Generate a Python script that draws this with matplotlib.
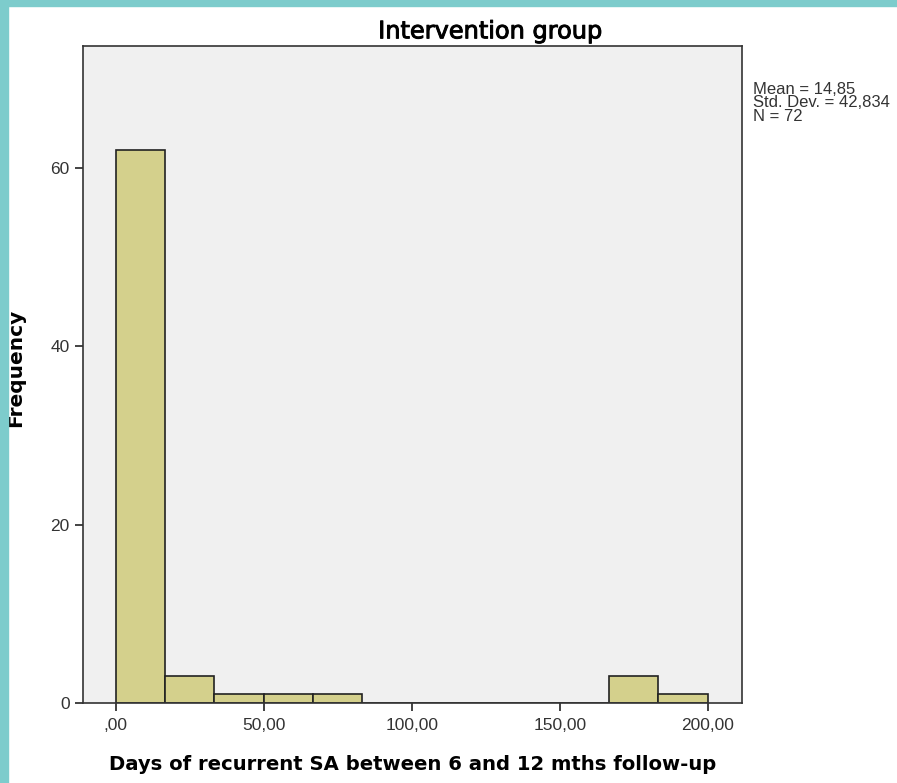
import matplotlib
matplotlib.use("Agg")
import matplotlib.pyplot as plt
import matplotlib.patheffects as pe
from matplotlib.patches import Rectangle

# histogram of days (12 bins of width 200/12)
bin_edges = [0, 16.667, 33.333, 50, 66.667, 83.333, 100, 116.667, 133.333, 150, 166.667, 183.333, 200]
counts = [62, 3, 1, 1, 1, 0, 0, 0, 0, 0, 3, 1]
x_ticks = [0, 50, 100, 150, 200]
x_tick_labels = [',00', '50,00', '100,00', '150,00', '200,00']
y_ticks = [0, 20, 40, 60]
stats_text = 'Mean = 14,85\nStd. Dev. = 42,834\nN = 72'

plt.rcParams['font.family'] = ['Liberation Sans', 'DejaVu Sans']

fig = plt.figure(figsize=(8.97, 7.83), dpi=100)
ax = fig.add_axes([0.0925, 0.1022, 0.7345, 0.8391])
ax.set_facecolor('#f0f0f0')

widths = [bin_edges[i + 1] - bin_edges[i] for i in range(len(counts))]
ax.bar(bin_edges[:-1], counts, width=widths, align='edge',
       color='#d4d08c', edgecolor='#222222', linewidth=1.2)

ax.set_xlim(-11.1, 211.5)
ax.set_ylim(0, 73.7)
ax.set_xticks(x_ticks)
ax.set_xticklabels(x_tick_labels)
ax.set_yticks(y_ticks)
ax.tick_params(axis='both', direction='out', length=6, width=1.2,
               labelsize=12.5, colors='#222222', labelcolor='#333333')
ax.tick_params(axis='x', pad=5)
for side in ax.spines.values():
    side.set_color('#333333')
    side.set_linewidth(1.2)

title = ax.text(0.618, 1.004, 'Intervention group', transform=ax.transAxes,
                ha='center', va='bottom', fontsize=17.3, family='DejaVu Sans')
title.set_path_effects([pe.withStroke(linewidth=0.7, foreground='black')])
ax.set_xlabel('Days of recurrent SA between 6 and 12 mths follow-up',
              fontsize=14.1, family='DejaVu Sans', fontweight='bold')
ax.xaxis.set_label_coords(0.5, -0.079)
ax.set_ylabel('Frequency', fontsize=14.5, family='DejaVu Sans', fontweight='bold')
ax.yaxis.set_label_coords(-0.088, 0.51)

fig.text(0.840, 0.895, stats_text, fontsize=12, color='#333333',
         va='top', ha='left', linespacing=0.85)

# teal frame along the top and left edges
fig.patches.append(Rectangle((0, 0.992), 1, 0.008, transform=fig.transFigure,
                             color='#7dcccc', zorder=10))
fig.patches.append(Rectangle((0, 0), 0.009, 1, transform=fig.transFigure,
                             color='#7dcccc', zorder=10))

fig.savefig('out.png', dpi=100, facecolor='white')
